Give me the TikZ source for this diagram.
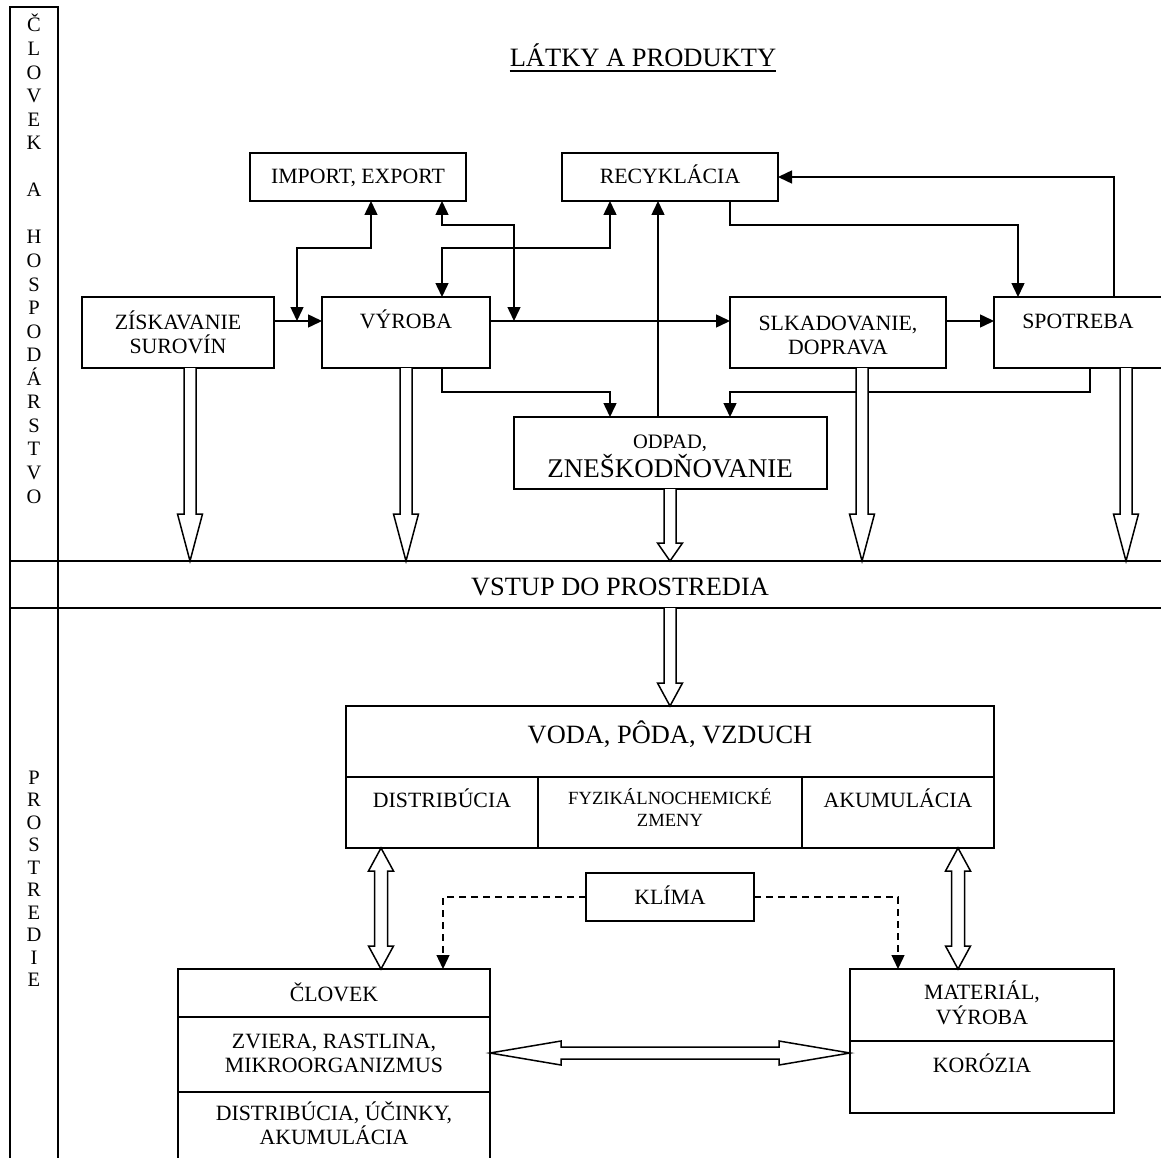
\documentclass[tikz,border=0pt]{standalone}
\usepackage{fontspec}
\setmainfont{Liberation Serif}
\usetikzlibrary{arrows.meta}
% hollow block arrows: x, ytop, ytip, head length
\newcommand{\hollowdown}[4]{\draw[hollow] (#1-6,#2) -- (#1-6,#3-#4) -- (#1-12.5,#3-#4) -- (#1,#3) -- (#1+12.5,#3-#4) -- (#1+6,#3-#4) -- (#1+6,#2);}
% x, y1, y2, head length
\newcommand{\hollowvdouble}[4]{\draw[hollow] (#1,#2) -- (#1+12.5,#2+#4) -- (#1+6.5,#2+#4) -- (#1+6.5,#3-#4) -- (#1+12.5,#3-#4) -- (#1,#3) -- (#1-12.5,#3-#4) -- (#1-6.5,#3-#4) -- (#1-6.5,#2+#4) -- (#1-12.5,#2+#4) -- cycle;}
% y, x1, x2, head length
\newcommand{\hollowhdouble}[4]{\draw[hollow] (#2,#1) -- (#2+#4,#1-12) -- (#2+#4,#1-6) -- (#3-#4,#1-6) -- (#3-#4,#1-12) -- (#3,#1) -- (#3-#4,#1+12) -- (#3-#4,#1+6) -- (#2+#4,#1+6) -- (#2+#4,#1+12) -- cycle;}
\begin{document}
\begin{tikzpicture}[x=1pt,y=-1pt,
  box/.style={draw, line width=1.6, rectangle, inner sep=0, outer sep=0},
  tA/.style={font=\fontsize{21.8}{25}\selectfont, inner sep=0, anchor=base},
  tS/.style={font=\fontsize{20.5}{24}\selectfont, inner sep=0, anchor=base},
  tB/.style={font=\fontsize{26.4}{30}\selectfont, inner sep=0, anchor=base},
  tC/.style={font=\fontsize{18.6}{21}\selectfont, inner sep=0, anchor=base},
  tL/.style={font=\fontsize{20.5}{24}\selectfont, inner sep=0, anchor=base},
  arr/.style={line width=1.5, -{Triangle[length=14pt,width=13pt]}},
  darr/.style={line width=1.5, {Triangle[length=14pt,width=13pt]}-{Triangle[length=14pt,width=13pt]}},
  dasharr/.style={line width=1.3, dash pattern=on 7pt off 5pt, -{Triangle[length=14pt,width=13pt]}},
  hollow/.style={draw, line width=1.5, fill=white, line join=miter}]
\useasboundingbox (0,0) rectangle (1161,1158);
\fill[white] (0,0) rectangle (1161,1158);
\clip (0,0) rectangle (1161,1158);

% left column and band
\node[box, minimum width=48, minimum height=554] (colTop) at (34,284) {};
\node[box, minimum width=48, minimum height=47] (colMid) at (34,584.5) {};
\node[box, minimum width=48, minimum height=567] (colBot) at (34,891.5) {};
\node[box, minimum width=1117, minimum height=47] (vstup) at (616.5,584.5) {};
\node[tB] (vstupT) at (620,595.6) {VSTUP DO PROSTREDIA};

\foreach \ch/\i in {Č/0,L/1,O/2,V/3,E/4,K/5,A/7,H/9,O/10,S/11,P/12,O/13,D/14,Á/15,R/16,S/17,T/18,V/19,O/20}
  \node[tL] (h\i) at (34,{32+\i*23.55}) {\ch};
\foreach \ch/\i in {P/0,R/1,O/2,S/3,T/4,R/5,E/6,D/7,I/8,E/9}
  \node[tL] (p\i) at (34,{784+\i*22.55}) {\ch};

% title
\node[tB, font=\fontsize{26.5}{30}\selectfont] (title) at (643,67) {LÁTKY A PRODUKTY};
\draw[line width=1.5] ([yshift=-4pt]title.base west) -- ([yshift=-4pt]title.base east);

% upper boxes
\node[box, minimum width=216, minimum height=48] (imp) at (358,177) {};
\node[tA] (impT) at (358,184) {IMPORT, EXPORT};
\node[box, minimum width=216, minimum height=48] (rec) at (670,177) {};
\node[tA] (recT) at (670,184) {RECYKLÁCIA};
\node[box, minimum width=192, minimum height=71] (zisk) at (178,332.5) {};
\node[tA] (ziskT1) at (178,329) {ZÍSKAVANIE};
\node[tA] (ziskT2) at (178,353) {SUROVÍN};
\node[box, minimum width=168, minimum height=71] (vyr) at (406,332.5) {};
\node[tA] (vyrT) at (406,328.5) {VÝROBA};
\node[box, minimum width=216, minimum height=71] (slk) at (838,332.5) {};
\node[tA] (slkT1) at (838,330) {SLKADOVANIE,};
\node[tA] (slkT2) at (838,354) {DOPRAVA};
\node[box, minimum width=170, minimum height=71] (spot) at (1079,332.5) {};
\node[tA] (spotT) at (1078,328.5) {SPOTREBA};
\node[box, minimum width=313, minimum height=72] (odp) at (670.5,453) {};
\node[tS] (odpT1) at (670,448.8) {ODPAD,};
\node[tB, font=\fontsize{27}{30}\selectfont] (odpT2) at (670,477) {ZNEŠKODŇOVANIE};

% thin connectors
\coordinate (j1) at (297,321);
\coordinate (j2) at (514,321);
\draw[arr] (zisk.east |- 0,321) -- (vyr.west |- 0,321);
\draw[arr] (vyr.east |- 0,321) -- (slk.west |- 0,321);
\draw[arr] (slk.east |- 0,321) -- (spot.west |- 0,321);
\draw[darr] (j1) -- (297,248) -- (371,248) -- (imp.south -| 371,0);
\draw[darr] (j2) -- (514,225) -- (442,225) -- (imp.south -| 442,0);
\draw[darr] (vyr.north -| 442,0) -- (442,248) -- (610,248) -- (rec.south -| 610,0);
\draw[arr] (spot.north -| 1114,0) -- (1114,177) -- (rec.east);
\draw[arr] (rec.south -| 730,0) -- (730,225) -- (1018,225) -- (spot.north -| 1018,0);
\draw[arr] (odp.north -| 658,0) -- (rec.south -| 658,0);
\draw[arr] (vyr.south -| 442,0) -- (442,392) -- (610,392) -- (odp.north -| 610,0);
\draw[arr] (spot.south -| 1090,0) -- (1090,392) -- (730,392) -- (odp.north -| 730,0);

% hollow arrows into the band
\hollowdown{190}{368}{561}{47}
\hollowdown{406}{368}{561}{47}
\hollowdown{670}{489}{561}{18}
\hollowdown{862}{368}{561}{47}
\hollowdown{1126}{368}{561}{47}
\hollowdown{670}{608}{706}{23}

% environment part
\node[box, minimum width=648, minimum height=71] (voda) at (670,741.5) {};
\node[tB] (vodaT) at (670,743.6) {VODA, PÔDA, VZDUCH};
\node[box, minimum width=192, minimum height=71] (dist) at (442,812.5) {};
\node[tA] (distT) at (442,807) {DISTRIBÚCIA};
\node[box, minimum width=264, minimum height=71] (fyz) at (670,812.5) {};
\node[tC] (fyzT1) at (670,804) {FYZIKÁLNOCHEMICKÉ};
\node[tC] (fyzT2) at (670,826) {ZMENY};
\node[box, minimum width=192, minimum height=71] (aku) at (898,812.5) {};
\node[tA] (akuT) at (898,807) {AKUMULÁCIA};

\node[box, minimum width=168, minimum height=48] (klima) at (670,897) {};
\node[tA] (klimaT) at (670,904) {KLÍMA};

\node[box, minimum width=312, minimum height=48] (clov) at (334,993) {};
\node[tA] (clovT) at (334,1001) {ČLOVEK};
\node[box, minimum width=312, minimum height=75] (zvi) at (334,1054.5) {};
\node[tA] (zviT1) at (334,1048) {ZVIERA, RASTLINA,};
\node[tA] (zviT2) at (334,1072) {MIKROORGANIZMUS};
\node[box, minimum width=312, minimum height=85] (ucin) at (334,1134.5) {};
\node[tA] (ucinT1) at (334,1120) {DISTRIBÚCIA, ÚČINKY,};
\node[tA] (ucinT2) at (334,1144) {AKUMULÁCIA};

\node[box, minimum width=264, minimum height=72] (mat) at (982,1005) {};
\node[tA] (matT1) at (982,999) {MATERIÁL,};
\node[tA] (matT2) at (982,1024) {VÝROBA};
\node[box, minimum width=264, minimum height=72] (kor) at (982,1077) {};
\node[tA] (korT) at (982,1072) {KORÓZIA};

\draw[dasharr] (klima.west) -- (443,897) -- (clov.north -| 443,0);
\draw[dasharr] (klima.east) -- (898,897) -- (mat.north -| 898,0);

\hollowvdouble{381}{848}{969}{23}
\hollowvdouble{958}{848}{969}{23}
\hollowhdouble{1053}{490}{850}{71}
\end{tikzpicture}
\end{document}
